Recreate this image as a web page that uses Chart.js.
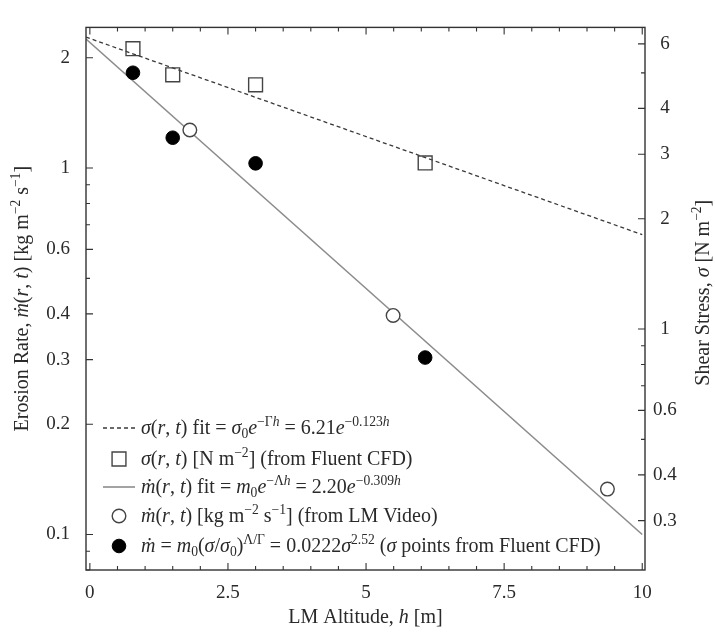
<!DOCTYPE html>
<html>
<head>
<meta charset="utf-8">
<script src="https://cdn.jsdelivr.net/npm/chart.js@4.4.1/dist/chart.umd.min.js"></script>
<style>
  body { margin: 0; background: #fff; }
  #wrap { width: 715px; height: 634px; }
</style>
</head>
<body>
<div id="wrap"><canvas id="erosionChart" width="715" height="634"></canvas></div>
<script>
/* ---------- data ---------- */
const cfdAltitude      = [0.78, 1.5, 3.0, 6.07];          // h [m]
const shearStressCFD   = [5.82, 4.94, 4.64, 2.84];        // sigma [N m^-2]
const videoAltitude    = [1.81, 5.49, 9.37];
const erosionVideo     = [1.27, 0.396, 0.133];            // mdot [kg m^-2 s^-1]
const erosionFromSigma = [1.82, 1.21, 1.03, 0.304];
const fitAltitude      = [-0.07, 10];
const shearStressFit   = [6.26, 1.81];
const erosionFit       = [2.25, 0.100];

const xTicks      = [0, 0.5, 1, 1.5, 2, 2.5, 3, 3.5, 4, 4.5, 5, 5.5, 6, 6.5, 7, 7.5, 8, 8.5, 9, 9.5, 10];
const xLabels     = [0, 2.5, 5, 7.5, 10];
const leftTicks   = [0.08, 0.09, 0.1, 0.2, 0.3, 0.4, 0.5, 0.6, 0.7, 0.8, 0.9, 1, 2];
const leftLabels  = [0.1, 0.2, 0.3, 0.4, 0.6, 1, 2];
const rightTicks  = [0.3, 0.4, 0.5, 0.6, 0.7, 0.8, 0.9, 1, 2, 3, 4, 5, 6];
const rightLabels = [0.3, 0.4, 0.6, 1, 2, 3, 4, 6];

const legendTexts = [
  "$σ$($r$, $t$) fit = $σ$_{0}$e$^{−Γ$h$} = 6.21$e$^{−0.123$h$}",
  "$σ$($r$, $t$) [N m^{−2}] (from Fluent CFD)",
  "$ṁ$($r$, $t$) fit = $m$_{0}$e$^{−Λ$h$} = 2.20$e$^{−0.309$h$}",
  "$ṁ$($r$, $t$) [kg m^{−2} s^{−1}] (from LM Video)",
  "$ṁ$ = $m$_{0}($σ$/$σ$_{0})^{Λ/Γ} = 0.0222$σ$^{2.52} ($σ$ points from Fluent CFD)"
];
const xTitle     = "LM Altitude, $h$ [m]";
const leftTitle  = "Erosion Rate, $ṁ$($r$, $t$) [kg m^{−2} s^{−1}]";
const rightTitle = "Shear Stress, $σ$ [N m^{−2}]";

/* ---------- look ---------- */
const FONT = "'Liberation Serif', 'DejaVu Serif', serif";
const INK = "#2a2a2a";
const TEXT_SIZE = 20;

/* tiny markup: $..$ italic, ^{..} superscript, _{..} subscript */
function parseRich(str) {
  const out = []; let italic = false; const lvl = [0]; let buf = "";
  const flush = () => { if (buf) { out.push({ t: buf, i: italic, l: lvl[lvl.length - 1] }); buf = ""; } };
  for (let k = 0; k < str.length; k++) {
    const c = str[k];
    if (c === "$") { flush(); italic = !italic; }
    else if ((c === "^" || c === "_") && str[k + 1] === "{") { flush(); lvl.push(c === "^" ? 1 : -1); k++; }
    else if (c === "}") { flush(); lvl.pop(); }
    else buf += c;
  }
  flush();
  return out;
}
function segFont(s, size) {
  const sz = s.l ? size * 0.68 : size;
  return (s.i ? "italic " : "") + sz + "px " + FONT;
}
function richWidth(ctx, str, size) {
  let w = 0;
  parseRich(str).forEach(s => { ctx.font = segFont(s, size); w += ctx.measureText(s.t).width; });
  return w;
}
function drawRich(ctx, str, x, y, size, align) {
  const segs = parseRich(str);
  let cx = x;
  if (align === "center") cx -= richWidth(ctx, str, size) / 2;
  ctx.textBaseline = "alphabetic"; ctx.textAlign = "left"; ctx.fillStyle = INK;
  segs.forEach(s => {
    ctx.font = segFont(s, size);
    const dy = s.l === 1 ? -size * 0.42 : s.l === -1 ? size * 0.22 : 0;
    ctx.fillText(s.t, cx, y + dy);
    cx += ctx.measureText(s.t).width;
  });
}

/* ---------- gnuplot-like frame, inward ticks, titles, legend ---------- */
const framePlugin = {
  id: "frame",
  afterDraw(chart) {
    const { ctx, chartArea: a, scales } = chart;
    ctx.save();
    ctx.strokeStyle = "#333"; ctx.lineWidth = 1.4;
    ctx.strokeRect(a.left, a.top, a.right - a.left, a.bottom - a.top);

    ctx.lineWidth = 1.1;
    ctx.beginPath();
    xTicks.forEach(v => {
      const p = scales.x.getPixelForValue(v);
      const len = xLabels.includes(v) ? 7 : 4;
      ctx.moveTo(p, a.bottom); ctx.lineTo(p, a.bottom - len);
      ctx.moveTo(p, a.top); ctx.lineTo(p, a.top + len);
    });
    leftTicks.forEach(v => {
      const p = scales.y.getPixelForValue(v);
      const len = leftLabels.includes(v) ? 7 : 4;
      ctx.moveTo(a.left, p); ctx.lineTo(a.left + len, p);
    });
    rightTicks.forEach(v => {
      const p = scales.y2.getPixelForValue(v);
      const len = rightLabels.includes(v) ? 7 : 4;
      ctx.moveTo(a.right, p); ctx.lineTo(a.right - len, p);
    });
    ctx.stroke();

    // axis titles
    const midY = (a.top + a.bottom) / 2;
    drawRich(ctx, xTitle, (a.left + a.right) / 2, 623, TEXT_SIZE, "center");
    ctx.save(); ctx.translate(28, midY); ctx.rotate(-Math.PI / 2);
    drawRich(ctx, leftTitle, 0, 0, TEXT_SIZE, "center"); ctx.restore();
    ctx.save(); ctx.translate(709, midY - 6); ctx.rotate(-Math.PI / 2);
    drawRich(ctx, rightTitle, 0, 0, TEXT_SIZE, "center"); ctx.restore();

    // legend
    const rows = [428, 459, 487, 516, 546];
    const ds = chart.data.datasets;
    const order = [3, 0, 4, 1, 2];   // dataset index for each legend row
    order.forEach((di, r) => {
      const d = ds[di], y = rows[r];
      ctx.save();
      ctx.strokeStyle = d.borderColor; ctx.fillStyle = d.backgroundColor;
      ctx.lineWidth = d.borderWidth;
      if (d.showLine) {
        ctx.setLineDash(d.borderDash || []);
        ctx.beginPath(); ctx.moveTo(103, y); ctx.lineTo(135, y); ctx.stroke();
      } else {
        Chart.helpers.drawPoint(ctx, { pointStyle: d.pointStyle, radius: d.pointRadius, rotation: 0, borderWidth: d.borderWidth }, 119, y);
      }
      ctx.restore();
      drawRich(ctx, legendTexts[r], 141, y + 6, TEXT_SIZE, "left");
    });
    ctx.restore();
  }
};

const tickFont = { family: FONT, size: 19 };

new Chart(document.getElementById("erosionChart"), {
  type: "scatter",
  data: {
    datasets: [
      { // squares, CFD shear stress (right axis)
        data: cfdAltitude.map((h, i) => ({ x: h, y: shearStressCFD[i] })),
        yAxisID: "y2", pointStyle: "rect", pointRadius: 9.8, pointHoverRadius: 9.8,
        borderColor: "#444", backgroundColor: "rgba(255,255,255,0)", borderWidth: 1.4, showLine: false
      },
      { // open circles, LM video
        data: videoAltitude.map((h, i) => ({ x: h, y: erosionVideo[i] })),
        yAxisID: "y", pointStyle: "circle", pointRadius: 6.8, pointHoverRadius: 6.8,
        borderColor: "#444", backgroundColor: "#fff", borderWidth: 1.4, showLine: false
      },
      { // filled circles, mdot from sigma
        data: cfdAltitude.map((h, i) => ({ x: h, y: erosionFromSigma[i] })),
        yAxisID: "y", pointStyle: "circle", pointRadius: 6.8, pointHoverRadius: 6.8,
        borderColor: "#000", backgroundColor: "#000", borderWidth: 1, showLine: false
      },
      { // sigma fit, dashed
        data: fitAltitude.map((h, i) => ({ x: h, y: shearStressFit[i] })),
        yAxisID: "y2", showLine: true, pointRadius: 0, borderColor: "#3a3a3a",
        backgroundColor: "#3a3a3a", borderWidth: 1.3, borderDash: [4, 3]
      },
      { // mdot fit, solid grey
        data: fitAltitude.map((h, i) => ({ x: h, y: erosionFit[i] })),
        yAxisID: "y", showLine: true, pointRadius: 0, borderColor: "#8c8c8c",
        backgroundColor: "#8c8c8c", borderWidth: 1.6
      }
    ]
  },
  options: {
    responsive: false,
    animation: false,
    layout: { padding: { top: 14, left: 0, right: 0, bottom: 0 } },
    plugins: { legend: { display: false }, tooltip: { enabled: false } },
    scales: {
      x: {
        type: "linear", min: -0.07, max: 10.05,
        grid: { display: false, drawTicks: false }, border: { display: false },
        afterBuildTicks: s => { s.ticks = xLabels.map(v => ({ value: v })); },
        afterFit: s => { s.height = 64; },
        ticks: { font: tickFont, color: INK, padding: 12, autoSkip: false, maxRotation: 0, callback: v => String(v) }
      },
      y: {
        type: "logarithmic", position: "left", min: 0.08, max: 2.42,
        grid: { display: false, drawTicks: false }, border: { display: false },
        afterBuildTicks: s => { s.ticks = leftLabels.map(v => ({ value: v })); },
        afterFit: s => { s.width = 86; },
        ticks: { font: tickFont, color: INK, padding: 16, autoSkip: false, callback: v => String(v) }
      },
      y2: {
        type: "logarithmic", position: "right", min: 0.22, max: 6.655,
        grid: { display: false, drawTicks: false }, border: { display: false },
        afterBuildTicks: s => { s.ticks = rightLabels.map(v => ({ value: v })); },
        afterFit: s => { s.width = 70; },
        ticks: { font: tickFont, color: INK, padding: 8, crossAlign: "center", autoSkip: false, callback: v => String(v) }
      }
    }
  },
  plugins: [framePlugin]
});
</script>
</body>
</html>
